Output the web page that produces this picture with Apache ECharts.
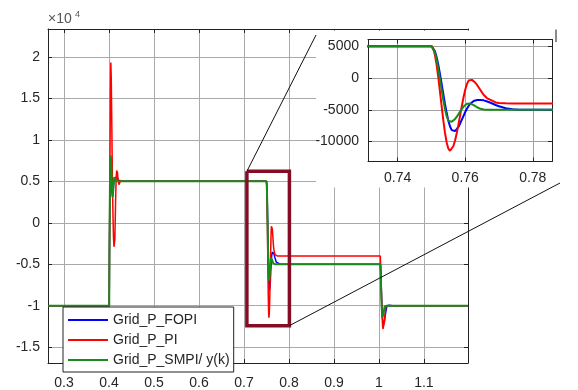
<!DOCTYPE html>
<html><head><meta charset="utf-8">
<script src="https://cdn.jsdelivr.net/npm/echarts@6/dist/echarts.min.js"></script>
<style>html,body{margin:0;padding:0;background:#fff}#c{width:578px;height:390px}</style>
</head><body><div id="c"></div>
<script>
// ---- data ----
const seriesNames = ['Grid_P_FOPI', 'Grid_P_PI', 'Grid_P_SMPI/ y(k)'];
// step at t = 0.4
const tA = [0.265,0.4005,0.401,0.402,0.403,0.404,0.405,0.406,0.407,0.408,0.409,0.410,0.411,0.412,0.413,0.414,0.415,0.416,0.417,0.418,0.419,0.420,0.422,0.424,0.426,0.428,0.432];
const fopiA = [-10000,-10000,-3500,3000,6500,7400,6800,5200,3800,3300,3700,4400,5000,5400,5600,5600,5500,5500,5500,5550,5500,5300,5100,5000,5000,5000,5000];
const piA = [-10000,-10000,-4000,6000,15000,19300,17500,13000,8000,3500,500,-1800,-2900,-3100,-2000,800,3500,5500,6300,6430,6000,5300,4600,4800,5100,5000,5000];
const smpiA = [-10000,-10000,-3000,4000,7500,8100,7000,5000,3500,3100,3600,4500,5200,5500,5400,5100,4950,5000,5000,5000,5000,5000,5000,5000,5000,5000,5000];
// step at t = 0.75 (detail shown in the inset)
const tB = [0.440,0.750,0.7505,0.751,0.7515,0.752,0.7525,0.753,0.7535,0.754,0.7545,0.755,0.7555,0.756,0.7565,0.757,0.7575,0.758,0.7585,0.759,0.7595,0.760,0.7605,0.761,0.7615,0.762,0.7625,0.763,0.7635,0.764,0.7645,0.765,0.7655,0.766,0.7665,0.767,0.7675,0.768,0.769,0.770,0.772,0.774,0.776,0.780,0.800];
const fopiB = [5000,5000,4806,4234,3325,2119,676,-892,-2508,-4076,-5519,-6725,-7634,-8206,-8400,-8350,-8100,-7700,-7150,-6550,-5950,-5350,-4850,-4400,-4050,-3800,-3630,-3530,-3470,-3450,-3450,-3470,-3520,-3600,-3700,-3800,-3900,-4000,-4250,-4450,-4750,-4900,-4980,-5000,-5000];
const piB = [5000,5000,4666,3694,2161,192,-2055,-4395,-6642,-8611,-10144,-11116,-11450,-11259,-10698,-9806,-8642,-7288,-5835,-4382,-3027,-1864,-972,-411,-220,-300,-450,-750,-1100,-1500,-1900,-2300,-2680,-2980,-3200,-3350,-3460,-3600,-3850,-3950,-3990,-4000,-4000,-4000,-4000];
const smpiB = [5000,5000,4757,4050,2936,1504,-130,-1830,-3464,-4896,-6010,-6717,-6960,-6900,-6723,-6446,-6089,-5682,-5258,-4851,-4494,-4217,-4040,-3980,-4020,-4120,-4270,-4440,-4600,-4740,-4850,-4920,-4960,-4985,-5000,-5000,-5000,-5000,-5000,-5000,-5000,-5000,-5000,-5000,-5000];
// step at t = 1.0
const tC = [1.003,1.004,1.005,1.006,1.007,1.008,1.009,1.010,1.011,1.012,1.013,1.014,1.016,1.018,1.020,1.023,1.026,1.030,1.198];
const fopiC = [-5000,-5800,-7400,-9200,-10600,-11500,-12000,-12300,-12300,-12000,-11600,-11200,-10500,-10000,-9850,-9950,-10000,-10000,-10000];
const piC = [-4000,-5200,-7200,-9500,-11300,-12300,-12800,-12930,-12600,-12000,-11300,-10700,-10000,-9800,-9900,-10000,-10000,-10000,-10000];
const smpiC = [-5000,-6200,-8200,-10000,-11000,-11400,-11500,-11200,-10700,-10300,-10050,-9950,-10000,-10000,-10000,-10000,-10000,-10000,-10000];
// zoom box drawn on the main axes (data coordinates)
const zoomBoxT = [0.7065, 0.801];
const zoomBoxP = [-12400, 6200];

// ---- build ----
const t = tA.concat(tB, tC);
const pair = (v) => t.map((x, i) => [x, v[i]]);
const fopi = pair(fopiA.concat(fopiB, fopiC));
const pi = pair(piA.concat(piB, piC));
const smpi = pair(smpiA.concat(smpiB, smpiC));
const boxData = [[zoomBoxT[0], zoomBoxP[1]], [zoomBoxT[1], zoomBoxP[1]], [zoomBoxT[1], zoomBoxP[0]], [zoomBoxT[0], zoomBoxP[0]], [zoomBoxT[0], zoomBoxP[1]]];

const FONT = "'Liberation Sans', Arial, Helvetica, sans-serif";
const AX = '#222222';
const GRIDC = '#aaaaaa';
const colors = ['#0000ff', '#ff0000', '#1a8a1a'];

const main = {left: 48, top: 29, width: 420, height: 334};
const inset = {left: 368, top: 39.5, width: 184, height: 122};

function axisBase(extra) {
  return Object.assign({
    type: 'value',
    axisLine: {show: true, onZero: false, lineStyle: {color: AX, width: 1}},
    axisTick: {show: true, inside: true, length: 4, lineStyle: {color: AX}},
    axisLabel: {show: false},
    splitLine: {show: false}
  }, extra);
}
const lbl = (o) => Object.assign({show: true, color: '#262626', fontSize: 14, fontFamily: FONT, showMinLabel: false, showMaxLabel: false}, o);

const chart = echarts.init(document.getElementById('c'), null, {renderer: 'canvas'});
const option = {
  animation: false,
  backgroundColor: '#ffffff',
  grid: [
    Object.assign({}, main, {containLabel: false}),
    Object.assign({}, inset, {containLabel: false})
  ],
  xAxis: [
    axisBase({gridIndex: 0, min: 0.2644, max: 1.198, splitNumber: 9,
      axisLabel: lbl({margin: 13, formatter: v => String(Math.round(v * 10) / 10)}),
      splitLine: {show: true, lineStyle: {color: GRIDC, width: 1}}}),
    axisBase({gridIndex: 1, min: 0.7312, max: 0.7857, splitNumber: 3, z: 10,
      axisLabel: lbl({margin: 10, formatter: v => (Math.round(v * 100) / 100).toFixed(2)}),
      splitLine: {show: true, lineStyle: {color: '#a0a0a0', width: 1}}}),
    axisBase({gridIndex: 0, position: 'top', min: 0.2644, max: 1.198, splitNumber: 9}),
    axisBase({gridIndex: 1, position: 'top', min: 0.7312, max: 0.7857, splitNumber: 3, z: 10})
  ],
  yAxis: [
    axisBase({gridIndex: 0, min: -16900, max: 23350, splitNumber: 8,
      axisLabel: lbl({margin: 8, formatter: v => String(Math.round(v / 1000) / 10)}),
      splitLine: {show: true, lineStyle: {color: GRIDC, width: 1}}}),
    axisBase({gridIndex: 1, min: -13135, max: 6050, splitNumber: 4, z: 10,
      axisLabel: lbl({margin: 9, formatter: v => String(Math.round(v))}),
      splitLine: {show: true, lineStyle: {color: '#a0a0a0', width: 1}}}),
    axisBase({gridIndex: 0, position: 'right', min: -16900, max: 23350, splitNumber: 8}),
    axisBase({gridIndex: 1, position: 'right', min: -13135, max: 6050, splitNumber: 4, z: 10})
  ],
  legend: {
    data: seriesNames, left: 63, top: 307, orient: 'vertical', selectedMode: false,
    backgroundColor: '#ffffff', borderColor: AX, borderWidth: 1, borderRadius: 0,
    padding: [5, 4, 4, 5], itemWidth: 40, itemHeight: 2, itemGap: 4, icon: 'rect',
    textStyle: {fontSize: 14, color: '#262626', fontFamily: FONT, lineHeight: 16},
    z: 20
  },
  series: [
    {name: seriesNames[0], type: 'line', xAxisIndex: 0, yAxisIndex: 0, data: fopi, showSymbol: false, symbol: 'none', lineStyle: {color: colors[0], width: 1.5}, itemStyle: {color: colors[0]}, z: 2},
    {name: seriesNames[1], type: 'line', xAxisIndex: 0, yAxisIndex: 0, data: pi, showSymbol: false, symbol: 'none', lineStyle: {color: colors[1], width: 1.5}, itemStyle: {color: colors[1]}, z: 2},
    {name: seriesNames[2], type: 'line', xAxisIndex: 0, yAxisIndex: 0, data: smpi, showSymbol: false, symbol: 'none', lineStyle: {color: colors[2], width: 2}, itemStyle: {color: colors[2]}, z: 2},
    {name: 'zoomBox', type: 'line', xAxisIndex: 0, yAxisIndex: 0, data: boxData, showSymbol: false, symbol: 'none', lineStyle: {color: '#860b25', width: 3.5, join: 'miter'}, z: 3, silent: true},
    {name: seriesNames[0], type: 'line', xAxisIndex: 1, yAxisIndex: 1, data: fopi, showSymbol: false, symbol: 'none', clip: true, lineStyle: {color: colors[0], width: 2}, itemStyle: {color: colors[0]}, z: 11},
    {name: seriesNames[1], type: 'line', xAxisIndex: 1, yAxisIndex: 1, data: pi, showSymbol: false, symbol: 'none', clip: true, lineStyle: {color: colors[1], width: 2}, itemStyle: {color: colors[1]}, z: 11},
    {name: seriesNames[2], type: 'line', xAxisIndex: 1, yAxisIndex: 1, data: smpi, showSymbol: false, symbol: 'none', clip: true, lineStyle: {color: colors[2], width: 2}, itemStyle: {color: colors[2]}, z: 11}
  ],
  graphic: [
    {id: 'insetBg', type: 'rect', z: 6, silent: true,
      shape: {x: inset.left - 52, y: main.top + 1.5, width: 578 - (inset.left - 52), height: inset.top + inset.height + 26 - (main.top + 1.5)},
      style: {fill: '#ffffff'}},
    {id: 'exp1', type: 'text', z: 20, x: main.left, y: 19.5,
      style: {text: '×10', font: '14px ' + FONT, fill: '#555', verticalAlign: 'middle', textVerticalAlign: 'middle'}},
    {id: 'exp2', type: 'text', z: 20, x: main.left + 27, y: 15,
      style: {text: '4', font: '9px ' + FONT, fill: '#555', verticalAlign: 'middle', textVerticalAlign: 'middle'}},
    {id: 'mark', type: 'line', z: 20, silent: true,
      shape: {x1: inset.left + inset.width + 4, y1: main.top + 0.5, x2: inset.left + inset.width + 4, y2: main.top + 13},
      style: {stroke: '#8a8a8a', lineWidth: 2}}
  ]
};
chart.setOption(option);

const p1 = chart.convertToPixel({gridIndex: 0}, [zoomBoxT[0], zoomBoxP[1]]);
const p2 = chart.convertToPixel({gridIndex: 0}, [zoomBoxT[1], zoomBoxP[0]]);
const q1 = [inset.left - 52, inset.top - 4.5];
const q2 = [inset.left + inset.width + 8, inset.top + inset.height + 21.5];
chart.setOption({
  graphic: [
    {id: 'conn1', type: 'line', z: 21, silent: true, shape: {x1: p1[0], y1: p1[1], x2: q1[0], y2: q1[1]}, style: {stroke: '#111', lineWidth: 1}},
    {id: 'conn2', type: 'line', z: 21, silent: true, shape: {x1: p2[0], y1: p2[1], x2: q2[0], y2: q2[1]}, style: {stroke: '#111', lineWidth: 1}}
  ]
});
</script>
</body></html>
